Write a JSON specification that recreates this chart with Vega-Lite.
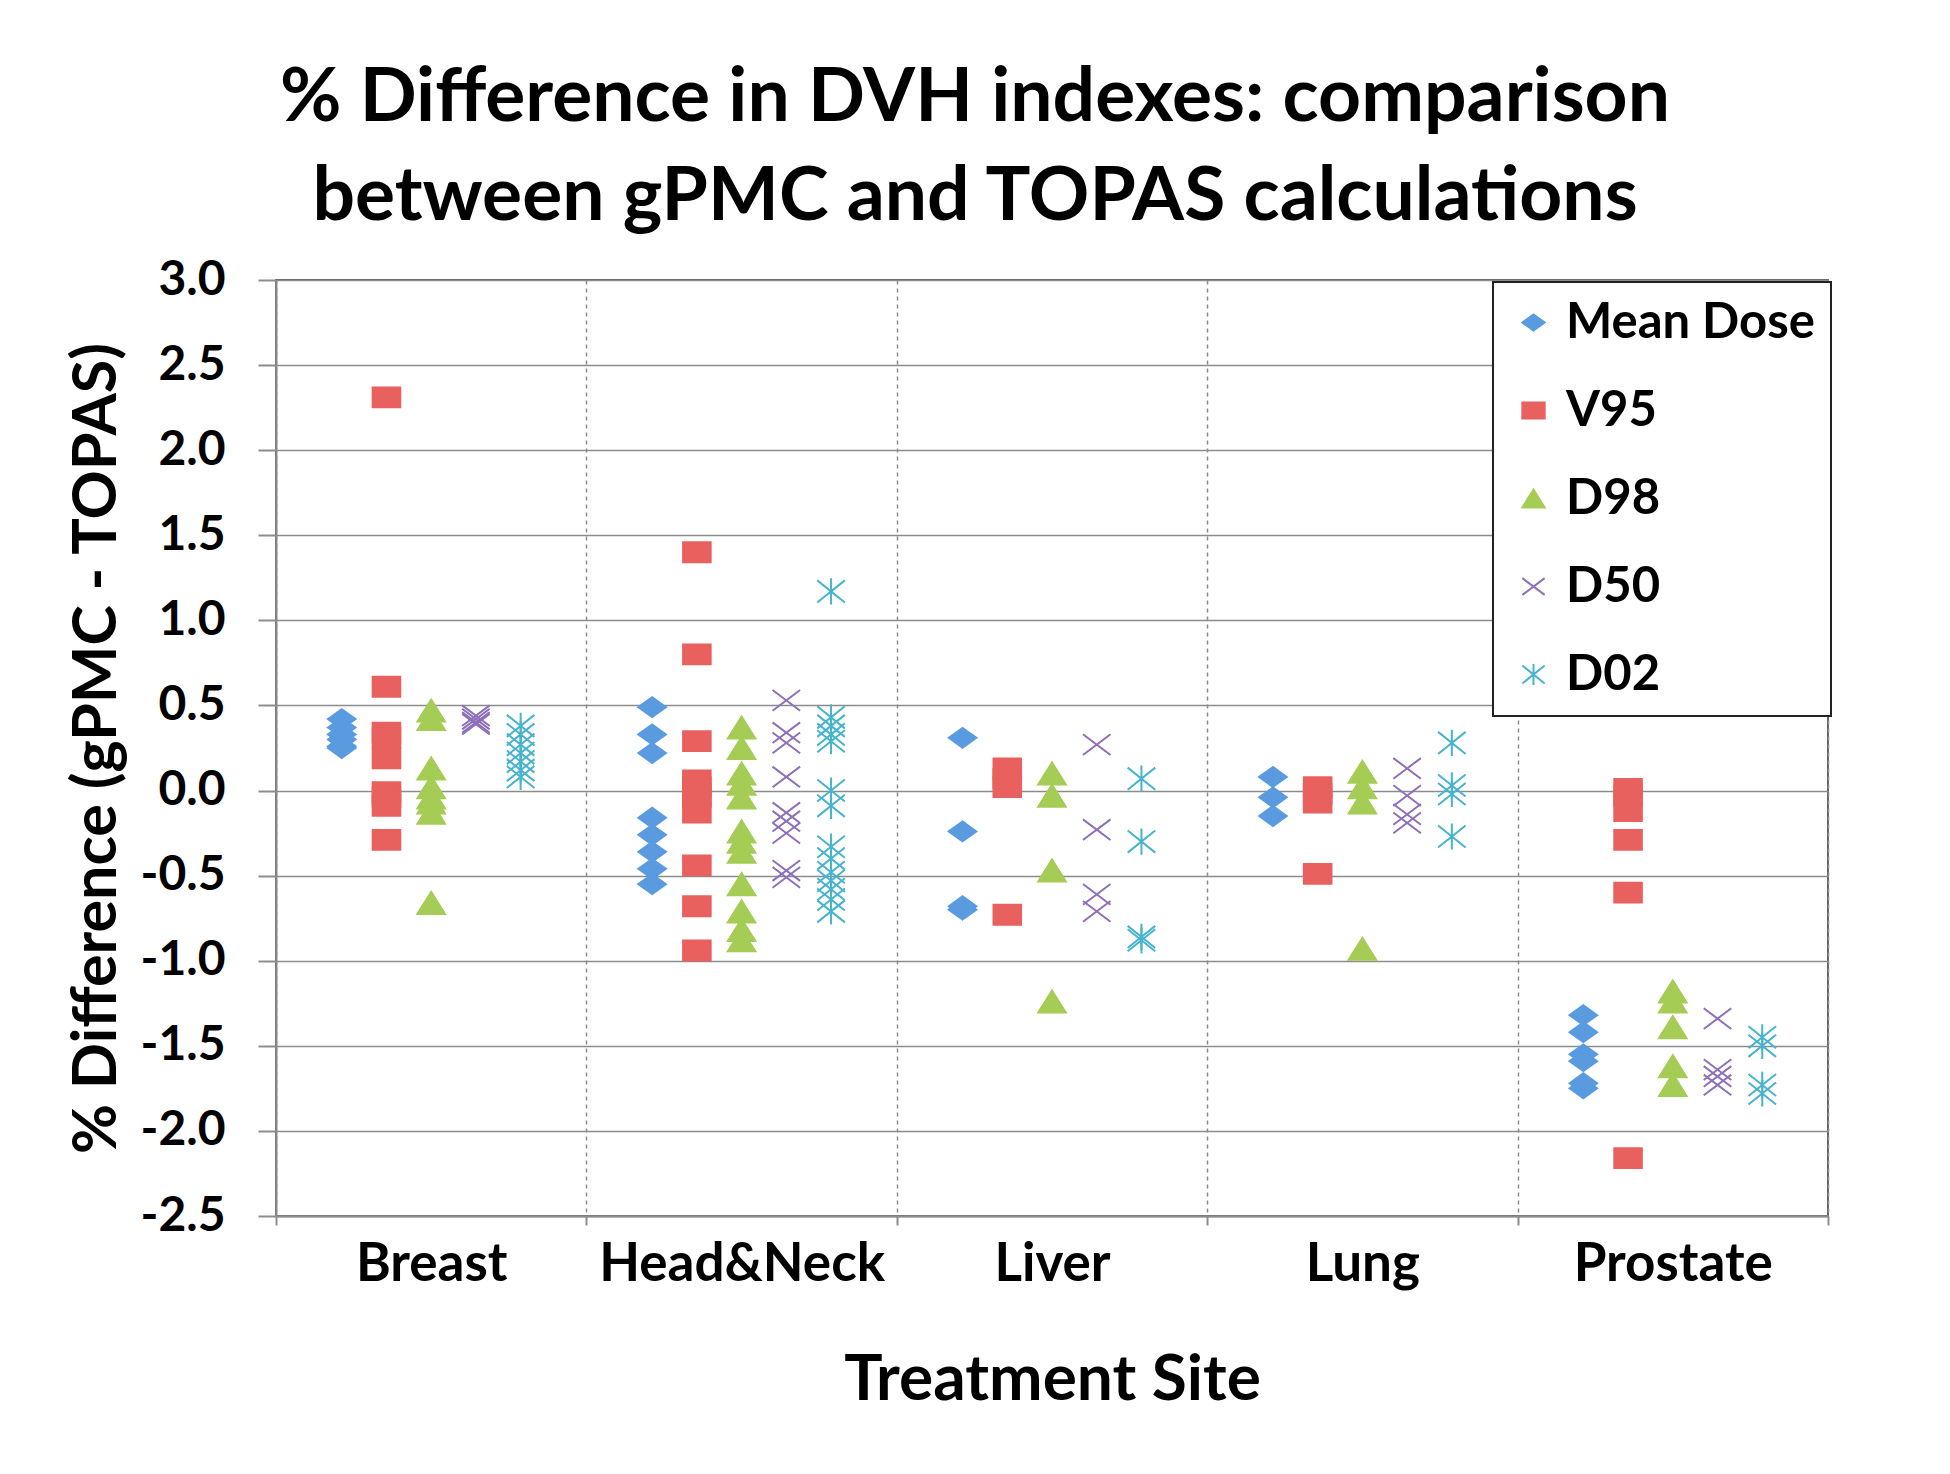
{
  "$schema": "https://vega.github.io/schema/vega-lite/v6.json",
  "width": 1552,
  "height": 936,
  "autosize": {"type": "none"},
  "padding": {"left": 276, "top": 280, "right": 122, "bottom": 258},
  "background": "white",
  "title": {
    "text": ["% Difference in DVH indexes: comparison", "between gPMC and TOPAS calculations"],
    "font": "Lato", "fontSize": 75, "fontWeight": "bold", "lineHeight": 99,
    "anchor": "middle", "frame": "group", "dx": -77, "offset": 20, "color": "black"
  },
  "data": {"values": [
    {"site": "Breast", "series": "Mean Dose", "value": 0.42},
    {"site": "Breast", "series": "Mean Dose", "value": 0.37},
    {"site": "Breast", "series": "Mean Dose", "value": 0.33},
    {"site": "Breast", "series": "Mean Dose", "value": 0.30},
    {"site": "Breast", "series": "Mean Dose", "value": 0.26},
    {"site": "Breast", "series": "Mean Dose", "value": 0.25},
    {"site": "Breast", "series": "V95", "value": 2.31},
    {"site": "Breast", "series": "V95", "value": 0.61},
    {"site": "Breast", "series": "V95", "value": 0.34},
    {"site": "Breast", "series": "V95", "value": 0.31},
    {"site": "Breast", "series": "V95", "value": 0.19},
    {"site": "Breast", "series": "V95", "value": -0.01},
    {"site": "Breast", "series": "V95", "value": -0.04},
    {"site": "Breast", "series": "V95", "value": -0.09},
    {"site": "Breast", "series": "V95", "value": -0.29},
    {"site": "Breast", "series": "D98", "value": 0.47},
    {"site": "Breast", "series": "D98", "value": 0.42},
    {"site": "Breast", "series": "D98", "value": 0.13},
    {"site": "Breast", "series": "D98", "value": 0.02},
    {"site": "Breast", "series": "D98", "value": -0.04},
    {"site": "Breast", "series": "D98", "value": -0.07},
    {"site": "Breast", "series": "D98", "value": -0.13},
    {"site": "Breast", "series": "D98", "value": -0.66},
    {"site": "Breast", "series": "D50", "value": 0.44},
    {"site": "Breast", "series": "D50", "value": 0.42},
    {"site": "Breast", "series": "D50", "value": 0.40},
    {"site": "Breast", "series": "D50", "value": 0.39},
    {"site": "Breast", "series": "D02", "value": 0.38},
    {"site": "Breast", "series": "D02", "value": 0.33},
    {"site": "Breast", "series": "D02", "value": 0.27},
    {"site": "Breast", "series": "D02", "value": 0.22},
    {"site": "Breast", "series": "D02", "value": 0.17},
    {"site": "Breast", "series": "D02", "value": 0.12},
    {"site": "Breast", "series": "D02", "value": 0.08},
    {"site": "Head&Neck", "series": "Mean Dose", "value": 0.49},
    {"site": "Head&Neck", "series": "Mean Dose", "value": 0.33},
    {"site": "Head&Neck", "series": "Mean Dose", "value": 0.22},
    {"site": "Head&Neck", "series": "Mean Dose", "value": -0.16},
    {"site": "Head&Neck", "series": "Mean Dose", "value": -0.26},
    {"site": "Head&Neck", "series": "Mean Dose", "value": -0.36},
    {"site": "Head&Neck", "series": "Mean Dose", "value": -0.46},
    {"site": "Head&Neck", "series": "Mean Dose", "value": -0.55},
    {"site": "Head&Neck", "series": "V95", "value": 1.40},
    {"site": "Head&Neck", "series": "V95", "value": 0.80},
    {"site": "Head&Neck", "series": "V95", "value": 0.29},
    {"site": "Head&Neck", "series": "V95", "value": 0.06},
    {"site": "Head&Neck", "series": "V95", "value": 0.02},
    {"site": "Head&Neck", "series": "V95", "value": -0.02},
    {"site": "Head&Neck", "series": "V95", "value": -0.04},
    {"site": "Head&Neck", "series": "V95", "value": -0.13},
    {"site": "Head&Neck", "series": "V95", "value": -0.44},
    {"site": "Head&Neck", "series": "V95", "value": -0.68},
    {"site": "Head&Neck", "series": "V95", "value": -0.94},
    {"site": "Head&Neck", "series": "D98", "value": 0.37},
    {"site": "Head&Neck", "series": "D98", "value": 0.25},
    {"site": "Head&Neck", "series": "D98", "value": 0.10},
    {"site": "Head&Neck", "series": "D98", "value": 0.04},
    {"site": "Head&Neck", "series": "D98", "value": -0.04},
    {"site": "Head&Neck", "series": "D98", "value": -0.24},
    {"site": "Head&Neck", "series": "D98", "value": -0.30},
    {"site": "Head&Neck", "series": "D98", "value": -0.36},
    {"site": "Head&Neck", "series": "D98", "value": -0.55},
    {"site": "Head&Neck", "series": "D98", "value": -0.71},
    {"site": "Head&Neck", "series": "D98", "value": -0.82},
    {"site": "Head&Neck", "series": "D98", "value": -0.88},
    {"site": "Head&Neck", "series": "D50", "value": 0.53},
    {"site": "Head&Neck", "series": "D50", "value": 0.34},
    {"site": "Head&Neck", "series": "D50", "value": 0.28},
    {"site": "Head&Neck", "series": "D50", "value": 0.08},
    {"site": "Head&Neck", "series": "D50", "value": -0.13},
    {"site": "Head&Neck", "series": "D50", "value": -0.18},
    {"site": "Head&Neck", "series": "D50", "value": -0.25},
    {"site": "Head&Neck", "series": "D50", "value": -0.47},
    {"site": "Head&Neck", "series": "D50", "value": -0.51},
    {"site": "Head&Neck", "series": "D02", "value": 1.17},
    {"site": "Head&Neck", "series": "D02", "value": 0.43},
    {"site": "Head&Neck", "series": "D02", "value": 0.38},
    {"site": "Head&Neck", "series": "D02", "value": 0.33},
    {"site": "Head&Neck", "series": "D02", "value": 0.29},
    {"site": "Head&Neck", "series": "D02", "value": 0.00},
    {"site": "Head&Neck", "series": "D02", "value": -0.09},
    {"site": "Head&Neck", "series": "D02", "value": -0.33},
    {"site": "Head&Neck", "series": "D02", "value": -0.40},
    {"site": "Head&Neck", "series": "D02", "value": -0.48},
    {"site": "Head&Neck", "series": "D02", "value": -0.53},
    {"site": "Head&Neck", "series": "D02", "value": -0.58},
    {"site": "Head&Neck", "series": "D02", "value": -0.64},
    {"site": "Head&Neck", "series": "D02", "value": -0.71},
    {"site": "Liver", "series": "Mean Dose", "value": 0.31},
    {"site": "Liver", "series": "Mean Dose", "value": -0.24},
    {"site": "Liver", "series": "Mean Dose", "value": -0.68},
    {"site": "Liver", "series": "Mean Dose", "value": -0.70},
    {"site": "Liver", "series": "V95", "value": 0.13},
    {"site": "Liver", "series": "V95", "value": 0.07},
    {"site": "Liver", "series": "V95", "value": 0.02},
    {"site": "Liver", "series": "V95", "value": -0.73},
    {"site": "Liver", "series": "D98", "value": 0.10},
    {"site": "Liver", "series": "D98", "value": -0.03},
    {"site": "Liver", "series": "D98", "value": -0.47},
    {"site": "Liver", "series": "D98", "value": -1.24},
    {"site": "Liver", "series": "D50", "value": 0.27},
    {"site": "Liver", "series": "D50", "value": -0.23},
    {"site": "Liver", "series": "D50", "value": -0.61},
    {"site": "Liver", "series": "D50", "value": -0.71},
    {"site": "Liver", "series": "D02", "value": 0.07},
    {"site": "Liver", "series": "D02", "value": -0.30},
    {"site": "Liver", "series": "D02", "value": -0.86},
    {"site": "Liver", "series": "D02", "value": -0.88},
    {"site": "Lung", "series": "Mean Dose", "value": 0.08},
    {"site": "Lung", "series": "Mean Dose", "value": -0.04},
    {"site": "Lung", "series": "Mean Dose", "value": -0.15},
    {"site": "Lung", "series": "V95", "value": 0.02},
    {"site": "Lung", "series": "V95", "value": -0.02},
    {"site": "Lung", "series": "V95", "value": -0.07},
    {"site": "Lung", "series": "V95", "value": -0.49},
    {"site": "Lung", "series": "D98", "value": 0.11},
    {"site": "Lung", "series": "D98", "value": 0.02},
    {"site": "Lung", "series": "D98", "value": -0.07},
    {"site": "Lung", "series": "D98", "value": -0.93},
    {"site": "Lung", "series": "D50", "value": 0.13},
    {"site": "Lung", "series": "D50", "value": -0.03},
    {"site": "Lung", "series": "D50", "value": -0.14},
    {"site": "Lung", "series": "D50", "value": -0.19},
    {"site": "Lung", "series": "D02", "value": 0.28},
    {"site": "Lung", "series": "D02", "value": 0.03},
    {"site": "Lung", "series": "D02", "value": -0.02},
    {"site": "Lung", "series": "D02", "value": -0.27},
    {"site": "Prostate", "series": "Mean Dose", "value": -1.32},
    {"site": "Prostate", "series": "Mean Dose", "value": -1.42},
    {"site": "Prostate", "series": "Mean Dose", "value": -1.55},
    {"site": "Prostate", "series": "Mean Dose", "value": -1.59},
    {"site": "Prostate", "series": "Mean Dose", "value": -1.72},
    {"site": "Prostate", "series": "Mean Dose", "value": -1.75},
    {"site": "Prostate", "series": "V95", "value": 0.01},
    {"site": "Prostate", "series": "V95", "value": -0.03},
    {"site": "Prostate", "series": "V95", "value": -0.12},
    {"site": "Prostate", "series": "V95", "value": -0.29},
    {"site": "Prostate", "series": "V95", "value": -0.60},
    {"site": "Prostate", "series": "V95", "value": -2.16},
    {"site": "Prostate", "series": "D98", "value": -1.18},
    {"site": "Prostate", "series": "D98", "value": -1.24},
    {"site": "Prostate", "series": "D98", "value": -1.39},
    {"site": "Prostate", "series": "D98", "value": -1.62},
    {"site": "Prostate", "series": "D98", "value": -1.73},
    {"site": "Prostate", "series": "D50", "value": -1.34},
    {"site": "Prostate", "series": "D50", "value": -1.64},
    {"site": "Prostate", "series": "D50", "value": -1.68},
    {"site": "Prostate", "series": "D50", "value": -1.73},
    {"site": "Prostate", "series": "D02", "value": -1.45},
    {"site": "Prostate", "series": "D02", "value": -1.50},
    {"site": "Prostate", "series": "D02", "value": -1.73},
    {"site": "Prostate", "series": "D02", "value": -1.78}
  ]},
  "mark": {"type": "point", "filled": true, "opacity": 1, "strokeWidth": 2, "size": 760},
  "encoding": {
    "x": {
      "field": "site", "type": "nominal",
      "sort": ["Breast", "Head&Neck", "Liver", "Lung", "Prostate"],
      "scale": {"paddingInner": 0, "paddingOuter": 0},
      "axis": {
        "title": "Treatment Site",
        "labelAngle": 0,
        "labelLimit": 0,
        "tickBand": "extent",
        "grid": true,
        "gridDash": [4, 4],
        "gridColor": "#8c8c8c",
        "gridWidth": 1.5,
        "tickSize": 9,
        "labelPadding": 13,
        "labelFontSize": 53,
        "titleFontSize": 64,
        "titlePadding": 57
      }
    },
    "xOffset": {
      "field": "series", "type": "nominal",
      "sort": ["Mean Dose", "V95", "D98", "D50", "D02"],
      "scale": {"type": "band", "paddingInner": 0, "paddingOuter": 0.97}
    },
    "y": {
      "field": "value", "type": "quantitative",
      "scale": {"domain": [-2.5, 3.0], "nice": false, "zero": false},
      "axis": {
        "title": "% Difference (gPMC - TOPAS)",
        "values": [-2.5, -2.0, -1.5, -1.0, -0.5, 0.0, 0.5, 1.0, 1.5, 2.0, 2.5, 3.0],
        "labelExpr": "replace(format(datum.value, '.1f'), '\u2212', '-')",
        "grid": true,
        "gridColor": "#8c8c8c",
        "gridWidth": 1.5,
        "tickSize": 18,
        "labelPadding": 33,
        "labelFontSize": 48,
        "titleFontSize": 61,
        "titlePadding": 12
      }
    },
    "fill": {
      "field": "series", "type": "nominal",
      "scale": {"domain": ["Mean Dose", "V95", "D98", "D50", "D02"],
                "range": ["#5a9be0", "#e8615e", "#a5cc55", "#8e70b8", "#47b4cd"]},
      "legend": {"title": null}
    },
    "stroke": {
      "field": "series", "type": "nominal",
      "scale": {"domain": ["Mean Dose", "V95", "D98", "D50", "D02"],
                "range": ["#5a9be0", "#e8615e", "#a5cc55", "#8e70b8", "#47b4cd"]},
      "legend": {"title": null}
    },
    "shape": {
      "field": "series", "type": "nominal",
      "scale": {"domain": ["Mean Dose", "V95", "D98", "D50", "D02"],
                "range": [
                  "M-1,0L0,-0.72L1,0L0,0.72Z",
                  "M-1,-0.72L1,-0.72L1,0.72L-1,0.72Z",
                  "M-1,0.8L0,-0.8L1,0.8Z",
                  "M-1,-0.75L1,0.75M-1,0.75L1,-0.75",
                  "M-1,-0.8L1,0.8M-1,0.8L1,-0.8M0,-0.95L0,0.95"
                ]},
      "legend": {"title": null}
    }
  },
  "config": {
    "font": "Lato",
    "view": {"stroke": "#666666", "strokeWidth": 2},
    "axis": {
      "labelFont": "Lato", "labelFontWeight": "bold", "labelColor": "black",
      "titleFont": "Lato", "titleFontWeight": "bold", "titleColor": "black",
      "domainColor": "#8c8c8c", "domainWidth": 2,
      "tickColor": "#8c8c8c", "tickWidth": 2
    },
    "legend": {
      "orient": "none",
      "legendX": 1217,
      "legendY": 2,
      "padding": 16,
      "rowPadding": 38,
      "strokeColor": "#222222",
      "strokeWidth": 2,
      "fillColor": "white",
      "labelFont": "Lato",
      "labelFontWeight": "bold",
      "labelFontSize": 49,
      "labelColor": "black",
      "labelLimit": 0,
      "labelOffset": 8,
      "symbolSize": 500,
      "symbolStrokeWidth": 2,
      "symbolOpacity": 1
    }
  }
}
